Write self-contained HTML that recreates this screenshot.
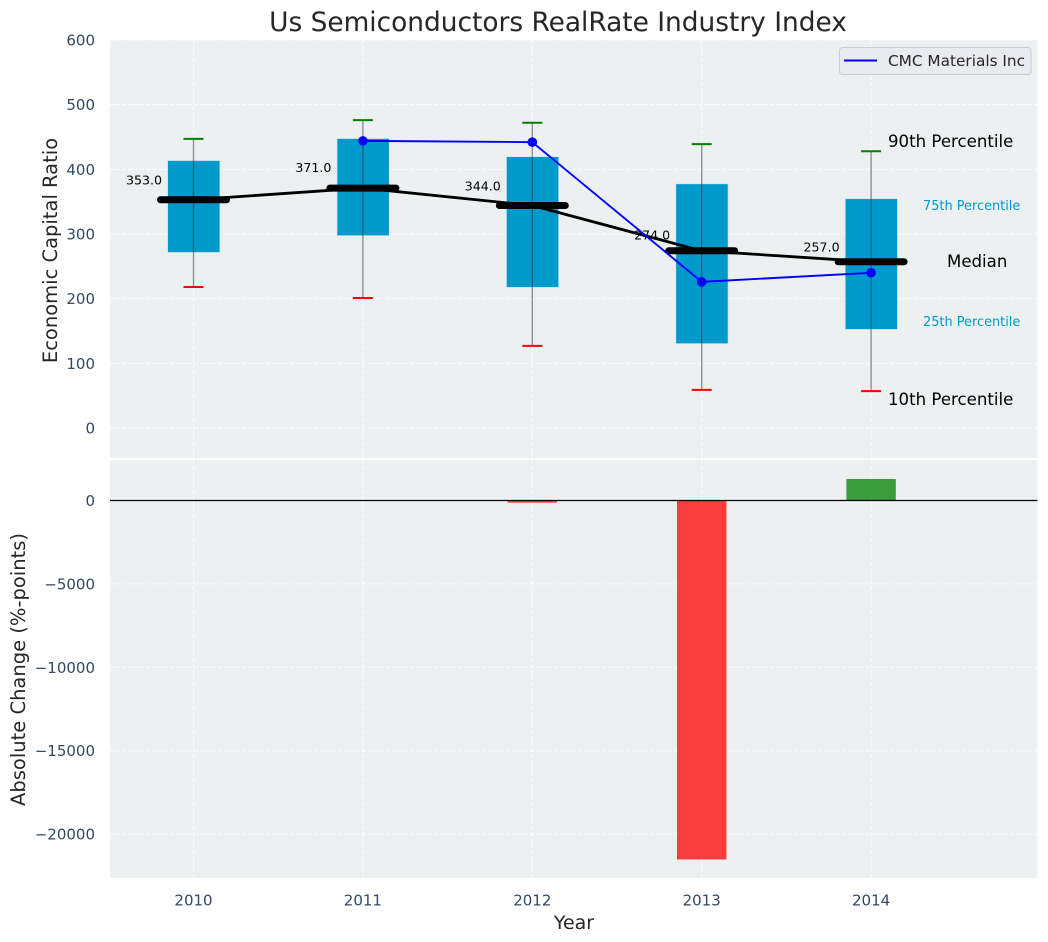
<!DOCTYPE html>
<html>
<head>
<meta charset="utf-8">
<title>Us Semiconductors RealRate Industry Index</title>
<style>
html,body{margin:0;padding:0;background:#fff;}
svg{display:block;font-family:"DejaVu Sans","Liberation Sans",sans-serif;}
</style>
</head>
<body>
<svg id="chart" width="1048" height="942" viewBox="0 0 1048 942" xmlns="http://www.w3.org/2000/svg"></svg>
<script>
const years = [2010, 2011, 2012, 2013, 2014];
const p90 = [447, 476, 472, 439, 428];
const p75 = [413, 447, 419, 377, 354];
const median = [353, 371, 344, 274, 257];
const p25 = [272, 298, 218, 131, 153];
const p10 = [218, 201, 127, 59, 57];
const company = [null, 444, 442, 226, 240];
const absChange = [0, 0, -130, -21520, 1290];
const topTicks = [0, 100, 200, 300, 400, 500, 600];
const bottomTicks = [0, -5000, -10000, -15000, -20000];
const titleText = "Us Semiconductors RealRate Industry Index";
const companyName = "CMC Materials Inc";

const NS = "http://www.w3.org/2000/svg";
const svg = document.getElementById("chart");
const L = 110, R = 1037.5;
const T1 = 40, B1 = 458, T2 = 460, B2 = 878;
const x = v => 193.5 + (v - 2010) * 169.4;
const y1 = v => 428 - v * 0.6467;
const y2 = v => 500.5 - v * 0.01668;

function mk(tag, attrs, text) {
  const el = document.createElementNS(NS, tag);
  for (const k in attrs) el.setAttribute(k, attrs[k]);
  if (text !== undefined) el.textContent = text;
  svg.appendChild(el);
  return el;
}
function mark(el, name) {
  
  
  return el;
}
const fmtTick = v => (v < 0 ? "\u2212" + Math.abs(v) : String(v));

// panels
mark(mk("rect", {x: L, y: T1, width: R - L, height: B1 - T1, fill: "#ecf0f1"}), "top-panel");
mark(mk("rect", {x: L, y: T2, width: R - L, height: B2 - T2, fill: "#ecf0f1"}), "bottom-panel");

const gridStyle = {stroke: "#ffffff", "stroke-width": 1, "stroke-dasharray": "4 2", "stroke-opacity": 0.85};

// grid + ticks
topTicks.forEach(t => {
  mark(mk("line", {x1: L, x2: R, y1: y1(t), y2: y1(t), ...gridStyle}), "top-grid-line-" + t);
  mark(mk("text", {x: 95, y: y1(t) + 5.5, "text-anchor": "end", "font-size": 15, fill: "#34495e"}, fmtTick(t)), "top-y-tick-" + t);
});
bottomTicks.forEach(t => {
  mark(mk("line", {x1: L, x2: R, y1: y2(t), y2: y2(t), ...gridStyle}), "bottom-grid-line-" + t);
  mark(mk("text", {x: 95, y: y2(t) + 5.5, "text-anchor": "end", "font-size": 15, fill: "#34495e"}, fmtTick(t)), "bottom-y-tick-" + t);
});
years.forEach(yr => {
  mark(mk("line", {x1: x(yr), x2: x(yr), y1: T1, y2: B1, ...gridStyle}), "top-grid-vertical-" + yr);
  mark(mk("line", {x1: x(yr), x2: x(yr), y1: T2, y2: B2, ...gridStyle}), "bottom-grid-vertical-" + yr);
  mark(mk("text", {x: x(yr), y: 905.5, "text-anchor": "middle", "font-size": 15, fill: "#34495e"}, String(yr)), "x-tick-" + yr);
});

// boxes
years.forEach((yr, i) => {
  mark(mk("rect", {x: x(yr) - 25.5, y: y1(p75[i]), width: 51.5, height: y1(p25[i]) - y1(p75[i]), fill: "#0099cc", stroke: "#0099cc", "stroke-opacity": 0.2, "stroke-width": 1}), "box-" + yr);
});

// whiskers
years.forEach((yr, i) => {
  mark(mk("line", {x1: x(yr), x2: x(yr), y1: y1(p90[i]), y2: y1(p10[i]), stroke: "#333333", "stroke-opacity": 0.55, "stroke-width": 1.3}), "whisker-" + yr);
  mark(mk("line", {x1: x(yr) - 10, x2: x(yr) + 10, y1: y1(p90[i]), y2: y1(p90[i]), stroke: "#008000", "stroke-width": 2}), "p90-cap-" + yr);
  mark(mk("line", {x1: x(yr) - 10, x2: x(yr) + 10, y1: y1(p10[i]), y2: y1(p10[i]), stroke: "#ff0000", "stroke-width": 2}), "p10-cap-" + yr);
});

// median connector
mark(mk("polyline", {points: years.map((yr, i) => x(yr) + "," + y1(median[i])).join(" "), fill: "none", stroke: "#000000", "stroke-width": 2.8}), "median-line");

// median bars and labels
years.forEach((yr, i) => {
  mark(mk("line", {x1: x(yr) - 33, x2: x(yr) + 33, y1: y1(median[i]), y2: y1(median[i]), stroke: "#000000", "stroke-width": 7, "stroke-linecap": "round"}), "median-bar-" + yr);
  mark(mk("text", {x: x(yr) - 31.5, y: y1(median[i] * 1.08) + 3, "text-anchor": "end", "font-size": 12.6, fill: "#000000"}, median[i].toFixed(1)), "median-label-" + yr);
});

// company series
const coPts = [];
years.forEach((yr, i) => {
  if (company[i] !== null) coPts.push(x(yr) + "," + y1(company[i]));
});
mark(mk("polyline", {points: coPts.join(" "), fill: "none", stroke: "#0000ff", "stroke-width": 1.9}), "company-line");
years.forEach((yr, i) => {
  if (company[i] !== null) {
    mark(mk("circle", {cx: x(yr), cy: y1(company[i]), r: 4.8, fill: "#0000ff"}), "company-point-" + yr);
  }
});

// percentile annotations
const a90 = mk("text", {x: 888, y: 147, "font-size": 16.6, fill: "#000000"}, "90th Percentile");
mark(a90, "annotation-90th-percentile");
const a75 = mk("text", {x: 923, y: 210, "font-size": 12.9, fill: "#0099cc"}, "75th Percentile");
mark(a75, "annotation-75th-percentile");
const aMed = mk("text", {x: 947, y: 267, "font-size": 16.6, fill: "#000000"}, "Median");
mark(aMed, "annotation-median");
const a25 = mk("text", {x: 923, y: 326, "font-size": 12.9, fill: "#0099cc"}, "25th Percentile");
mark(a25, "annotation-25th-percentile");
const a10 = mk("text", {x: 888, y: 405, "font-size": 16.6, fill: "#000000"}, "10th Percentile");
mark(a10, "annotation-10th-percentile");

// legend
mark(mk("rect", {x: 839.5, y: 47.5, width: 191.5, height: 27, rx: 3, fill: "#eaeaf2", stroke: "#cccccc", "stroke-width": 1}), "legend-frame");
mark(mk("line", {x1: 844, x2: 877, y1: 60.5, y2: 60.5, stroke: "#0000ff", "stroke-width": 1.9}), "legend-line");
mark(mk("text", {x: 888, y: 66, "font-size": 15.3, fill: "#262626"}, companyName), "legend-label");

// change bars
years.forEach((yr, i) => {
  if (absChange[i] !== 0) {
    const top = Math.min(y2(absChange[i]), y2(0));
    const h = Math.abs(y2(absChange[i]) - y2(0));
    mark(mk("rect", {x: x(yr) - 24.7, y: top, width: 49.4, height: h, fill: absChange[i] < 0 ? "#ff0000" : "#008000", "fill-opacity": 0.75}), "change-bar-" + yr);
  }
});
mark(mk("line", {x1: L, x2: R, y1: y2(0), y2: y2(0), stroke: "#000000", "stroke-width": 1.2}), "zero-line");

// titles
mark(mk("text", {x: 558, y: 31, "text-anchor": "middle", "font-size": 26.4, fill: "#262626"}, titleText), "chart-title");
mark(mk("text", {x: 574, y: 929, "text-anchor": "middle", "font-size": 19, fill: "#262626"}, "Year"), "x-axis-title");
mark(mk("text", {transform: "translate(57,250.5) rotate(-90)", "text-anchor": "middle", "font-size": 19.5, fill: "#262626"}, "Economic Capital Ratio"), "top-y-axis-title");
mark(mk("text", {transform: "translate(25,669.5) rotate(-90)", "text-anchor": "middle", "font-size": 19.5, fill: "#262626"}, "Absolute Change (%-points)"), "bottom-y-axis-title");
</script>
</body>
</html>
